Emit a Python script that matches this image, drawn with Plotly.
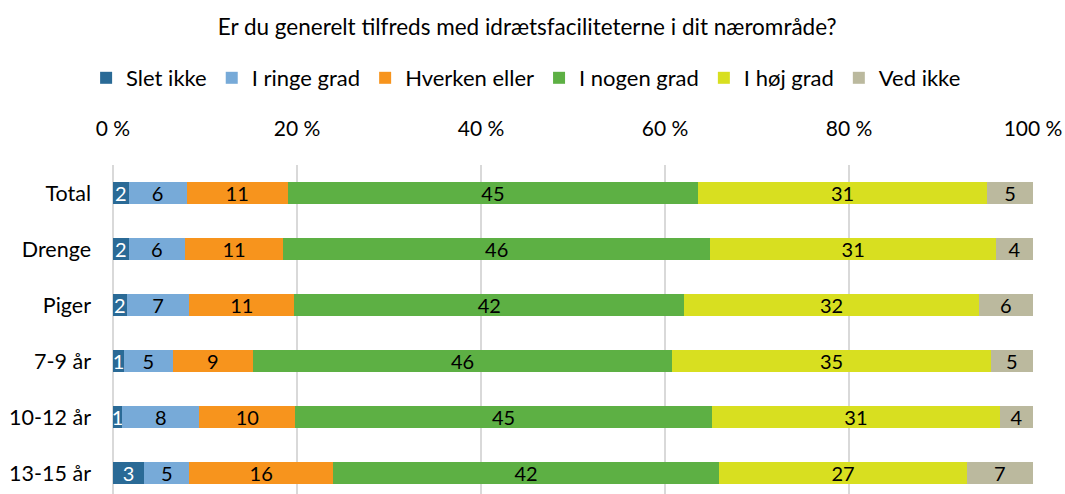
import plotly.graph_objects as go

categories = ["Total", "Drenge", "Piger", "7-9 år", "10-12 år", "13-15 år"]
series_names = ["Slet ikke", "I ringe grad", "Hverken eller", "I nogen grad", "I høj grad", "Ved ikke"]
slet_ikke = [1.7, 1.7, 1.5, 1.2, 1.0, 3.4]
i_ringe_grad = [6.3, 6.1, 6.8, 5.3, 8.4, 4.9]
hverken_eller = [11.0, 10.7, 11.4, 8.7, 10.4, 15.6]
i_nogen_grad = [44.6, 46.4, 42.4, 45.6, 45.3, 42.0]
i_hoej_grad = [31.4, 31.1, 32.0, 34.6, 31.3, 26.9]
ved_ikke = [5.0, 4.0, 5.9, 4.6, 3.6, 7.2]
tick_vals = [0, 20, 40, 60, 80, 100]
tick_text = ["0 %", "20 %", "40 %", "60 %", "80 %", "100 %"]

colors = ["#2a6a96", "#77aad8", "#f7941d", "#5db044", "#d8df20", "#bbb99e"]
text_colors = ["white", "black", "black", "black", "black", "black"]
values = [slet_ikke, i_ringe_grad, hverken_eller, i_nogen_grad, i_hoej_grad, ved_ikke]

FONT = "Lato, Open Sans, sans-serif"

fig = go.Figure()
for name, vals, col, tcol in zip(series_names, values, colors, text_colors):
    fig.add_trace(go.Bar(
        name=name, y=categories, x=vals, orientation="h",
        marker=dict(color=col, line=dict(width=0)),
        texttemplate="%{x:.0f}", textposition="inside", insidetextanchor="middle",
        textangle=0, textfont=dict(color=tcol, size=20, family=FONT),
        hoverinfo="skip",
    ))

fig.update_layout(
    barmode="stack",
    width=1065, height=494,
    paper_bgcolor="white", plot_bgcolor="white",
    margin=dict(l=113, r=32, t=165, b=0, autoexpand=False),
    bargap=0.607,
    font=dict(family=FONT, size=21, color="black"),
    uniformtext=dict(minsize=20, mode="show"),
    title=dict(text="Er du generelt tilfreds med idrætsfaciliteterne i dit nærområde?",
               x=0.495, xref="container", xanchor="center",
               y=1 - 27 / 494, yref="container", yanchor="middle",
               font=dict(size=22.5, color="black", family=FONT)),
    legend=dict(orientation="h", x=0.494, xref="container", xanchor="center",
                y=1 - 78 / 494, yref="container", yanchor="middle",
                font=dict(size=22, family=FONT), traceorder="normal"),
    xaxis=dict(range=[0, 100], side="top", tickvals=tick_vals, ticktext=tick_text,
               showgrid=True, gridcolor="#d9d9d9", gridwidth=1.5,
               zeroline=True, zerolinecolor="#d9d9d9", zerolinewidth=1.5,
               showline=False, ticks="", ticklabelstandoff=24, automargin=False,
               tickfont=dict(size=21, family=FONT)),
    yaxis=dict(range=[5.375, -0.5], type="category", showgrid=False, zeroline=False,
               showline=False, ticks="", ticklabelstandoff=21, automargin=False,
               tickfont=dict(size=21.5, family=FONT)),
)

fig.write_html("out.html", config={"displayModeBar": False},
               post_script="document.body.style.margin='0';document.body.style.padding='0';")
